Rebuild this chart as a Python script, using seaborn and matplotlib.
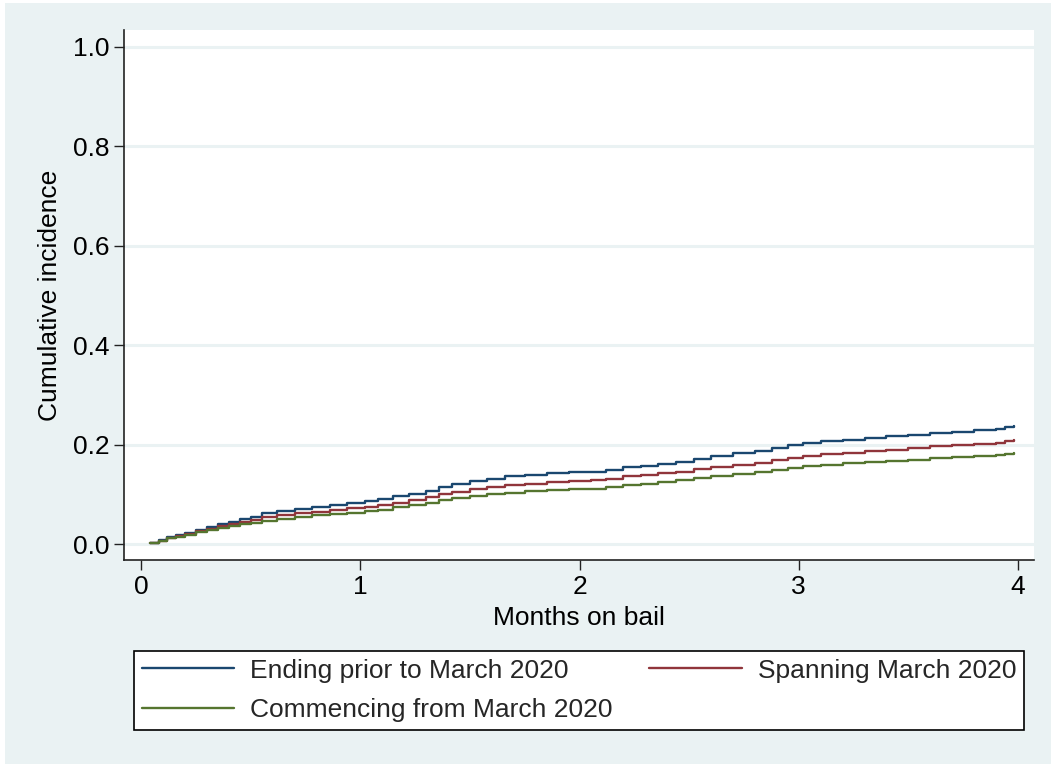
import numpy as np
import pandas as pd
import matplotlib
matplotlib.use("Agg")
import matplotlib.pyplot as plt
from matplotlib.patches import Rectangle
import seaborn as sns

# Step times (months on bail) and cumulative incidence for each bail period group
months = [0.04, 0.08, 0.12, 0.16, 0.20, 0.25, 0.30, 0.35, 0.40, 0.45, 0.50, 0.55,
          0.62, 0.70, 0.78, 0.86, 0.94, 1.02, 1.08, 1.15, 1.22, 1.30, 1.36, 1.42,
          1.50, 1.58, 1.66, 1.75, 1.85, 1.95, 2.05, 2.12, 2.20, 2.28, 2.36, 2.44,
          2.52, 2.60, 2.70, 2.80, 2.88, 2.95, 3.02, 3.10, 3.20, 3.30, 3.40, 3.50,
          3.60, 3.70, 3.80, 3.90, 3.94, 3.98]

ending_prior = [0.002, 0.008, 0.015, 0.019, 0.023, 0.029, 0.035, 0.040, 0.045, 0.050,
                0.054, 0.062, 0.066, 0.071, 0.074, 0.078, 0.082, 0.086, 0.090, 0.096,
                0.100, 0.106, 0.114, 0.120, 0.126, 0.131, 0.136, 0.139, 0.142, 0.144,
                0.146, 0.150, 0.155, 0.158, 0.161, 0.165, 0.172, 0.178, 0.183, 0.188,
                0.193, 0.199, 0.204, 0.207, 0.210, 0.214, 0.218, 0.220, 0.223, 0.226,
                0.229, 0.231, 0.235, 0.237]

spanning = [0.002, 0.007, 0.013, 0.017, 0.021, 0.026, 0.031, 0.036, 0.040, 0.045,
            0.048, 0.054, 0.058, 0.062, 0.065, 0.068, 0.072, 0.075, 0.078, 0.083,
            0.088, 0.094, 0.100, 0.105, 0.110, 0.114, 0.118, 0.121, 0.124, 0.126,
            0.128, 0.131, 0.136, 0.139, 0.142, 0.146, 0.151, 0.156, 0.160, 0.164,
            0.169, 0.174, 0.178, 0.181, 0.184, 0.187, 0.190, 0.193, 0.197, 0.200,
            0.202, 0.204, 0.207, 0.209]

commencing = [0.002, 0.006, 0.012, 0.015, 0.019, 0.024, 0.028, 0.032, 0.036, 0.040,
              0.043, 0.047, 0.051, 0.055, 0.058, 0.060, 0.063, 0.066, 0.069, 0.074,
              0.078, 0.083, 0.088, 0.093, 0.097, 0.100, 0.103, 0.106, 0.108, 0.110,
              0.111, 0.114, 0.118, 0.121, 0.124, 0.128, 0.133, 0.137, 0.141, 0.145,
              0.149, 0.153, 0.157, 0.160, 0.163, 0.165, 0.168, 0.170, 0.173, 0.175,
              0.177, 0.179, 0.182, 0.184]

group_labels = ["Ending prior to March 2020", "Spanning March 2020",
                "Commencing from March 2020"]
y_ticks = [0.0, 0.2, 0.4, 0.6, 0.8, 1.0]
x_ticks = [0, 1, 2, 3, 4]

palette = {group_labels[0]: "#1A476F",
           group_labels[1]: "#90353B",
           group_labels[2]: "#55752F"}

df = pd.concat([
    pd.DataFrame({"months": months, "incidence": vals, "group": lab})
    for lab, vals in zip(group_labels, [ending_prior, spanning, commencing])
], ignore_index=True)

sns.set_theme(style="white")
plt.rcParams["font.family"] = ["Liberation Sans", "DejaVu Sans"]
FS = 19

bg = "#EAF2F3"
fig = plt.figure(figsize=(10.51, 7.64), dpi=100, facecolor="white")
fig.patches.append(Rectangle((5 / 1051, 0), 1, 1 - 3 / 764, transform=fig.transFigure,
                             facecolor=bg, edgecolor="none", zorder=-10))

ax = fig.add_axes([124 / 1051, 1 - 560 / 764, (1034 - 124) / 1051, (560 - 30) / 764])
ax.set_facecolor("white")

for yt in y_ticks:
    ax.axhline(yt, color=bg, lw=2.2, zorder=0)

sns.lineplot(data=df, x="months", y="incidence", hue="group", hue_order=group_labels,
             palette=palette, drawstyle="steps-post", linewidth=1.7, ax=ax,
             legend=False, estimator=None, sort=True)

ax.set_xlim(-0.078, 4.073)
ax.set_ylim(-0.032, 1.034)
ax.set_xticks(x_ticks)
ax.set_xticklabels([str(v) for v in x_ticks])
ax.set_yticks(y_ticks)
ax.set_yticklabels([f"{v:.1f}" for v in y_ticks])
ax.tick_params(axis="both", which="major", direction="out", length=7.5, width=1.0,
               color="#222222", labelsize=FS, labelcolor="black", pad=3,
               left=True, bottom=True)
for side in ["top", "right"]:
    ax.spines[side].set_visible(False)
for side in ["left", "bottom"]:
    ax.spines[side].set_color("#222222")
    ax.spines[side].set_linewidth(1.2)

ax.set_xlabel("Months on bail", fontsize=FS, color="black", labelpad=5.5)
ax.set_ylabel("Cumulative incidence", fontsize=FS, color="black", labelpad=8)

# column-major fill: first column holds entries 1 and 3, second column entry 2
order = [0, 2, 1]
handles = [plt.Line2D([], [], color=palette[group_labels[i]], lw=1.7) for i in order]
labels = [group_labels[i] for i in order]
leg = fig.legend(handles, labels, loc="center", ncol=2, mode="expand",
                 bbox_to_anchor=(134 / 1051, 1 - 733 / 764, 890 / 1051, 85 / 764),
                 fontsize=FS, frameon=True, fancybox=False, framealpha=1,
                 facecolor="white", edgecolor="black", handlelength=3.5,
                 handletextpad=0.6, borderaxespad=0, borderpad=0.3,
                 labelspacing=0.6, columnspacing=1.0)
leg.get_frame().set_linewidth(1.2)

fig.savefig("out.png", dpi=100, facecolor=fig.get_facecolor())
